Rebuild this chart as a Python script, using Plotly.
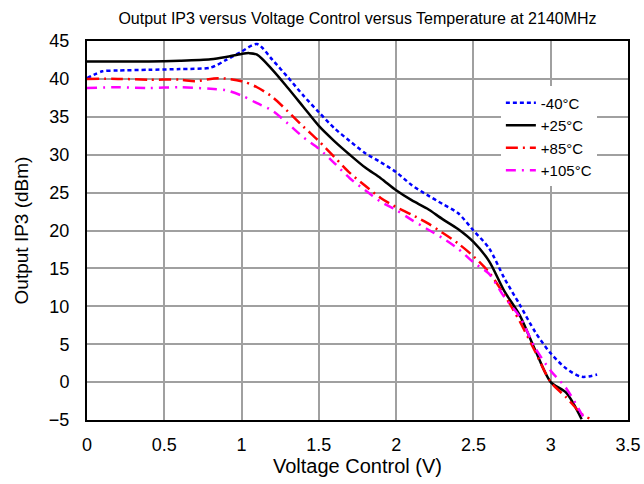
import plotly.graph_objects as go

x_m40 = [0, 0.1, 0.2, 0.4, 0.6, 0.8, 0.9, 1.0, 1.1, 1.2, 1.3, 1.4, 1.5, 1.6, 1.7, 1.8, 1.9, 2.0, 2.1, 2.2, 2.3, 2.4, 2.5, 2.6, 2.7, 2.8, 2.9, 3.0, 3.1, 3.2, 3.3]
y_m40 = [40.1, 41.0, 41.1, 41.2, 41.3, 41.5, 42.5, 43.6, 44.6, 42.5, 40.2, 37.8, 35.6, 33.5, 31.8, 30.2, 29.0, 27.7, 26.0, 24.7, 23.5, 22.3, 20.0, 17.7, 13.7, 10.2, 6.6, 3.8, 1.8, 0.7, 1.0]

x_p25 = [0, 0.2, 0.4, 0.6, 0.8, 0.9, 1.0, 1.05, 1.1, 1.2, 1.3, 1.4, 1.5, 1.6, 1.7, 1.8, 1.9, 2.0, 2.1, 2.2, 2.3, 2.4, 2.5, 2.6, 2.7, 2.8, 2.9, 3.0, 3.1, 3.2]
y_p25 = [42.3, 42.3, 42.3, 42.4, 42.6, 42.9, 43.3, 43.4, 43.2, 41.2, 38.8, 36.3, 33.8, 31.8, 30.0, 28.3, 26.9, 25.3, 24.0, 22.9, 21.5, 20.2, 18.5, 16.0, 12.0, 8.8, 4.2, 0.0, -1.4, -4.9]

x_p85 = [0, 0.2, 0.4, 0.6, 0.7, 0.85, 1.0, 1.1, 1.2, 1.3, 1.4, 1.5, 1.6, 1.7, 1.8, 1.9, 2.0, 2.1, 2.2, 2.3, 2.4, 2.5, 2.6, 2.7, 2.8, 2.9, 3.0, 3.1, 3.2, 3.25]
y_p85 = [40.0, 40.0, 39.9, 39.9, 39.7, 40.1, 39.7, 38.9, 37.6, 35.7, 33.7, 31.8, 29.7, 27.6, 25.9, 24.3, 23.1, 22.1, 21.0, 19.7, 18.3, 16.6, 14.5, 11.5, 8.0, 4.0, 0.0, -2.0, -4.2, -4.8]

x_p105 = [0, 0.2, 0.4, 0.6, 0.8, 0.9, 1.0, 1.1, 1.2, 1.3, 1.4, 1.5, 1.6, 1.7, 1.8, 1.9, 2.0, 2.1, 2.2, 2.3, 2.4, 2.5, 2.6, 2.7, 2.8, 2.9, 3.0, 3.1, 3.2, 3.22]
y_p105 = [38.8, 38.9, 38.8, 38.9, 38.7, 38.5, 37.8, 36.8, 35.8, 34.1, 32.3, 30.8, 28.9, 26.9, 25.3, 23.8, 22.7, 21.4, 20.2, 19.0, 17.6, 15.8, 14.3, 11.2, 8.6, 4.5, 1.5, -0.8, -4.2, -4.9]

series = [
    ("-40°C", x_m40, y_m40, "#0000FF", "4px,3px"),
    ("+25°C", x_p25, y_p25, "#000000", "solid"),
    ("+85°C", x_p85, y_p85, "#FF0000", "12px,5px,2px,5px"),
    ("+105°C", x_p105, y_p105, "#FF00FF", "10px,6px,2px,6px"),
]

fig = go.Figure()
for name, xs, ys, col, dash in series:
    fig.add_trace(go.Scatter(x=xs, y=ys, mode="lines", name=name,
                             line=dict(color=col, width=2.5, dash=dash, shape="spline", smoothing=0.8)))

font = "Liberation Sans, Arial, sans-serif"
fig.update_layout(
    width=644, height=484,
    margin=dict(l=87, r=16, t=41, b=64, autoexpand=False),
    paper_bgcolor="white", plot_bgcolor="white",
    font=dict(family=font, color="black"),
    title=dict(text="Output IP3 versus Voltage Control versus Temperature at 2140MHz",
               x=0.5, xref="paper", xanchor="center", y=1 - 18 / 484, yref="container", yanchor="middle",
               font=dict(size=16, family=font)),
    legend=dict(x=0.765, y=0.88, xanchor="left", yanchor="top", bgcolor="white",
                font=dict(size=15, family=font), tracegroupgap=0, itemwidth=30),
    showlegend=True,
)
fig.update_xaxes(range=[0, 3.5], dtick=0.5, tick0=0, showgrid=True, gridcolor="#A0A0A0", gridwidth=1.5,
                 showline=True, linecolor="black", linewidth=2, mirror=True, ticks="",
                 tickfont=dict(size=18), ticklabelstandoff=7, automargin=False,
                 title=dict(text="Voltage Control (V)", font=dict(size=20), standoff=3),
                 zeroline=False)
fig.update_yaxes(range=[-5, 45], dtick=5, tick0=-5, showgrid=True, gridcolor="#A0A0A0", gridwidth=1.5,
                 showline=True, linecolor="black", linewidth=2, mirror=True, ticks="",
                 tickfont=dict(size=18), ticklabelstandoff=12, automargin=False,
                 title=dict(text="Output IP3 (dBm)", font=dict(size=19), standoff=15),
                 zeroline=False)

fig.write_html("out.html")
